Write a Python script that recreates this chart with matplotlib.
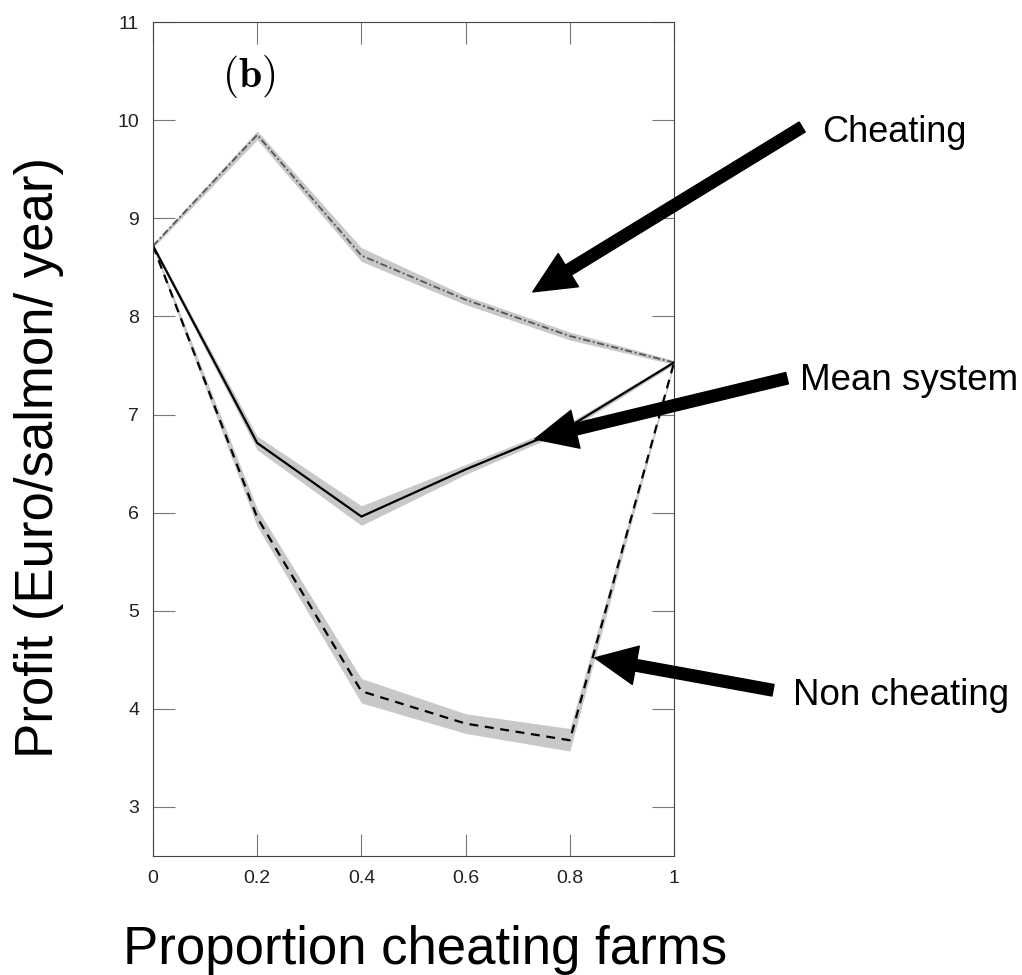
import numpy as np
import matplotlib
matplotlib.use('Agg')
import matplotlib.pyplot as plt

# proportion of cheating farms
prop = [0, 0.2, 0.4, 0.6, 0.8, 1.0]

# profit (Euro/salmon/year)
cheating = [8.72, 9.85, 8.62, 8.17, 7.80, 7.53]
cheating_lo = [8.70, 9.80, 8.56, 8.12, 7.76, 7.51]
cheating_hi = [8.74, 9.89, 8.70, 8.21, 7.84, 7.55]

mean_sys = [8.72, 6.71, 5.96, 6.44, 6.88, 7.53]
mean_lo = [8.70, 6.64, 5.87, 6.39, 6.85, 7.51]
mean_hi = [8.74, 6.78, 6.07, 6.49, 6.92, 7.55]

non_cheating = [8.72, 5.95, 4.18, 3.85, 3.68, 7.53]
non_lo = [8.70, 5.86, 4.06, 3.75, 3.57, 7.51]
non_hi = [8.74, 6.04, 4.31, 3.95, 3.80, 7.55]

fig = plt.figure(figsize=(10.22, 9.75), dpi=100)
ax = fig.add_axes([0.1497, 0.122, 0.5098, 0.8554])

band = '#c8c8c8'
ax.fill_between(prop, cheating_lo, cheating_hi, color=band, lw=0)
ax.fill_between(prop, mean_lo, mean_hi, color=band, lw=0)
ax.fill_between(prop, non_lo, non_hi, color=band, lw=0)

ax.plot(prop, cheating, color='#555555', lw=1.3, ls=(0, (4, 1.5, 1, 1.5)))
ax.plot(prop, mean_sys, color='black', lw=1.6, ls='-')
ax.plot(prop, non_cheating, color='black', lw=1.6, ls=(0, (4, 3)))

ax.set_xlim(0, 1)
ax.set_ylim(2.5, 11)
ax.set_xticks(prop)
ax.set_xticklabels(['0', '0.2', '0.4', '0.6', '0.8', '1'])
ax.set_yticks(range(3, 12))

for s in ax.spines.values():
    s.set_color('#444444')
    s.set_linewidth(0.8)
ax.tick_params(direction='in', length=16, width=0.8, color='#777777',
               top=True, right=True, labelsize=14, labelcolor='#222222',
               pad=10)
for lab in ax.get_xticklabels() + ax.get_yticklabels():
    lab.set_family('Liberation Sans')

ax.set_xlabel('Proportion cheating farms', fontsize=38,
              family='Liberation Sans')
ax.xaxis.set_label_coords(0.522, -0.083)
ax.set_ylabel('Profit (Euro/salmon/ year)', fontsize=38,
              family='Liberation Sans')
ax.yaxis.set_label_coords(-0.17, 0.478)

ax.text(0.183, 10.45, r'$\mathbf{(b)}$', fontsize=30, ha='center', va='center',
        math_fontfamily='cm')

arrow = dict(arrowstyle='simple,head_length=1.5,head_width=1.4,tail_width=0.42',
             color='black', shrinkA=0, shrinkB=0, mutation_scale=20)
ax.annotate('', xy=(0.729, 8.25), xytext=(1.246, 9.93), arrowprops=arrow,
            annotation_clip=False)
ax.annotate('', xy=(0.733, 6.75), xytext=(1.217, 7.37), arrowprops=arrow,
            annotation_clip=False)
ax.annotate('', xy=(0.848, 4.52), xytext=(1.19, 4.19), arrowprops=arrow,
            annotation_clip=False)

ax.text(1.284, 9.78, 'Cheating', fontsize=26, family='Liberation Sans',
        va='baseline', clip_on=False)
ax.text(1.242, 7.25, 'Mean system', fontsize=26.5, family='Liberation Sans',
        va='baseline', clip_on=False)
ax.text(1.228, 4.04, 'Non cheating', fontsize=26.5, family='Liberation Sans',
        va='baseline', clip_on=False)

fig.savefig('out.png', dpi=100)
